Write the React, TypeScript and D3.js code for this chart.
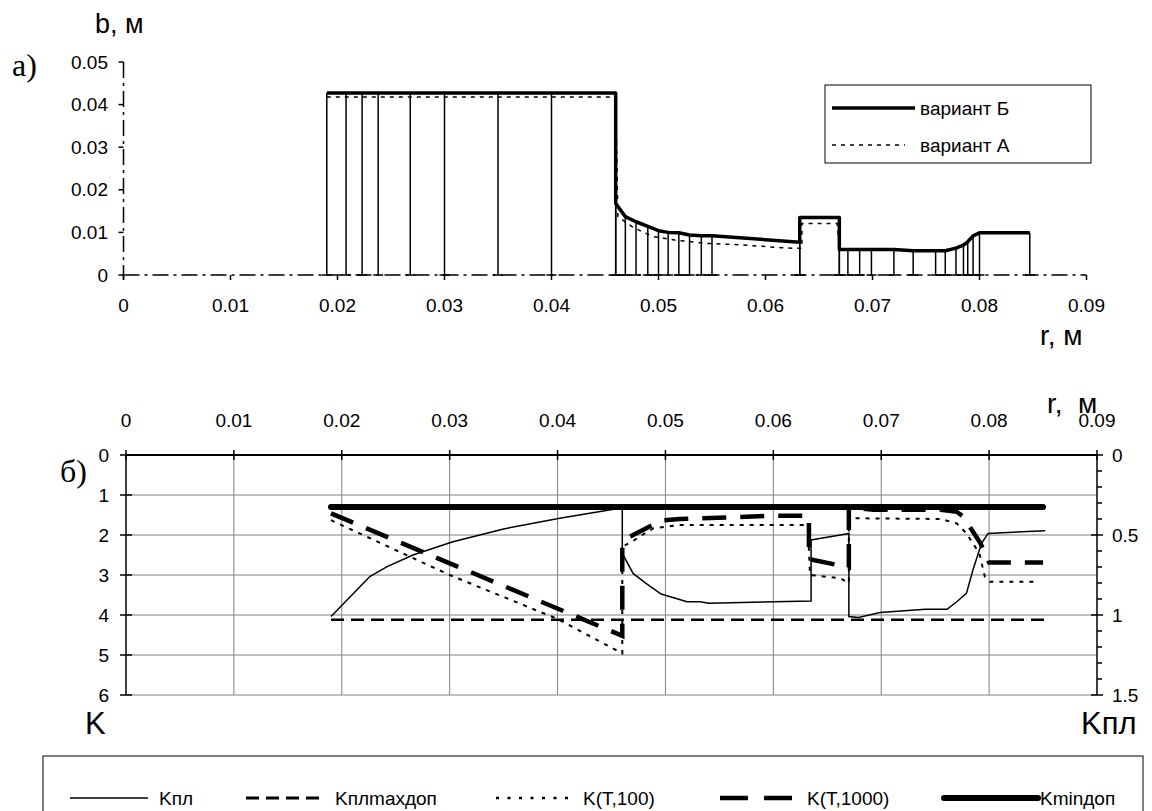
import React from 'react';
import * as d3 from 'd3';

const W = 1152;
const H = 811;
const FONT = "'Liberation Sans', Arial, sans-serif";
const SERIF = "'Liberation Serif', 'Times New Roman', serif";

// ---------- top chart (a) ----------
const rTicks = [0, 0.01, 0.02, 0.03, 0.04, 0.05, 0.06, 0.07, 0.08, 0.09];
const bTicks = [0, 0.01, 0.02, 0.03, 0.04, 0.05];

const variantBr = [0.019, 0.0208, 0.0223, 0.0238, 0.0268, 0.030, 0.035, 0.040, 0.046, 0.046, 0.0469, 0.0479, 0.049, 0.050, 0.0509, 0.0519, 0.0529, 0.054, 0.055, 0.0632, 0.0632, 0.0669, 0.0669, 0.0677, 0.0688, 0.0699, 0.0720, 0.0738, 0.0759, 0.0768, 0.0778, 0.0785, 0.0789, 0.0794, 0.0800, 0.0847];
const variantBb = [0.0427, 0.0427, 0.0427, 0.0427, 0.0427, 0.0427, 0.0427, 0.0427, 0.0427, 0.0168, 0.0137, 0.0125, 0.0114, 0.0104, 0.0100, 0.0099, 0.0094, 0.0092, 0.0092, 0.0077, 0.0135, 0.0135, 0.0060, 0.0060, 0.0060, 0.0060, 0.0060, 0.0057, 0.0057, 0.0057, 0.0063, 0.0070, 0.0078, 0.0092, 0.0099, 0.0099];

const variantAr = [0.019, 0.046, 0.0462, 0.0475, 0.0486, 0.0496, 0.0515, 0.0546, 0.0576, 0.0615, 0.0625, 0.0634, 0.0634, 0.0667, 0.0669, 0.0720, 0.0738, 0.0768, 0.0778, 0.0789, 0.0794, 0.0800, 0.0847];
const variantAb = [0.0418, 0.0418, 0.0137, 0.0114, 0.0100, 0.0090, 0.0082, 0.0074, 0.0071, 0.0064, 0.0063, 0.0063, 0.0121, 0.0121, 0.0060, 0.0060, 0.0057, 0.0057, 0.0063, 0.0078, 0.0092, 0.0099, 0.0099];

// ---------- bottom chart (б) ----------
const kTicksLeft = [0, 1, 2, 3, 4, 5, 6];
const kplTicksMajor = [0, 0.5, 1, 1.5];
const kplTicksMinor = [0.1, 0.2, 0.3, 0.4, 0.6, 0.7, 0.8, 0.9, 1.1, 1.2, 1.3, 1.4];

const kplR = [0.019, 0.0211, 0.0226, 0.0242, 0.0266, 0.0303, 0.035, 0.0402, 0.0452, 0.046, 0.046, 0.047, 0.0482, 0.0496, 0.052, 0.0532, 0.054, 0.0635, 0.0635, 0.0662, 0.067, 0.067, 0.0679, 0.0699, 0.0741, 0.0761, 0.077, 0.0779, 0.0785, 0.0793, 0.0799, 0.0852];
const kplV = [1.01, 0.864, 0.76, 0.698, 0.625, 0.542, 0.462, 0.396, 0.339, 0.328, 0.614, 0.74, 0.802, 0.869, 0.917, 0.917, 0.927, 0.9125, 0.531, 0.50, 0.49, 1.01, 1.015, 0.985, 0.964, 0.964, 0.917, 0.865, 0.719, 0.552, 0.49, 0.473];

const kplMaxR = [0.019, 0.0852];
const kplMaxV = [1.03, 1.03];

const kt100R = [0.019, 0.030, 0.040, 0.046, 0.046, 0.0469, 0.0476, 0.0489, 0.0513, 0.0632, 0.0634, 0.0662, 0.067, 0.067, 0.0755, 0.077, 0.0779, 0.0791, 0.0796, 0.0801, 0.0846];
const kt100V = [1.63, 3.0, 4.1, 4.96, 2.29, 2.17, 2.04, 1.83, 1.75, 1.75, 3.0, 3.08, 3.2, 1.58, 1.6, 1.71, 1.96, 2.46, 3.04, 3.17, 3.17];

const kt1000R = [0.019, 0.046, 0.046, 0.0467, 0.048, 0.0496, 0.0513, 0.060, 0.0633, 0.0633, 0.067, 0.067, 0.0693, 0.0755, 0.077, 0.0776, 0.0792, 0.080, 0.085];
const kt1000V = [1.46, 4.52, 2.3, 2.04, 1.86, 1.64, 1.6, 1.52, 1.52, 2.6, 2.81, 1.3, 1.37, 1.37, 1.42, 1.54, 2.21, 2.69, 2.69];

const kminR = [0.019, 0.085];
const kminV = [1.3, 1.3];

const fmt = (v: number) => String(+v.toFixed(2));
const zip = (a: number[], b: number[]): [number, number][] => a.map((v, i) => [v, b[i]]);

export default function App() {
  const xTop = d3.scaleLinear().domain([0, 0.09]).range([123.5, 1086.5]);
  const yTop = d3.scaleLinear().domain([0, 0.05]).range([275, 62]);
  const xBot = d3.scaleLinear().domain([0, 0.09]).range([126, 1097]);
  const yLeft = d3.scaleLinear().domain([0, 6]).range([455, 695]);
  const yRight = d3.scaleLinear().domain([0, 1.5]).range([455, 695]);

  const lineTop = d3.line<[number, number]>().x(d => xTop(d[0])).y(d => yTop(d[1]));
  const lineL = d3.line<[number, number]>().x(d => xBot(d[0])).y(d => yLeft(d[1]));
  const lineR = d3.line<[number, number]>().x(d => xBot(d[0])).y(d => yRight(d[1]));

  const ptsB = zip(variantBr, variantBb);
  const ptsA = zip(variantAr, variantAb);

  const axisDash = '16,5,3,5';

  return (
    <svg width={W} height={H} style={{ position: 'absolute', left: 0, top: 0, background: '#fff' }}
      fontFamily={FONT}>
      <rect x={0} y={0} width={W} height={H} fill="#fff" />

      {/* ===== TOP CHART ===== */}
      {ptsB.map((p, i) => (
        <g key={'h' + i}>
          <line x1={xTop(p[0])} x2={xTop(p[0])} y1={yTop(p[1])} y2={yTop(0)} stroke="#000" strokeWidth={1.5} />
          <line x1={xTop(p[0]) - 5} x2={xTop(p[0]) + 5} y1={yTop(0)} y2={yTop(0)} stroke="#000" strokeWidth={1.5} />
        </g>
      ))}
      <line x1={xTop(0)} x2={xTop(0.09)} y1={yTop(0)} y2={yTop(0)} stroke="#000" strokeWidth={1.5} strokeDasharray={axisDash} />
      <line x1={xTop(0)} x2={xTop(0)} y1={yTop(0.05)} y2={yTop(0) + 5} stroke="#000" strokeWidth={1.5} strokeDasharray={axisDash} />
      {bTicks.map(t => (
        <g key={'bt' + t}>
          <line x1={xTop(0) - 5} x2={xTop(0)} y1={yTop(t)} y2={yTop(t)} stroke="#000" strokeWidth={1.5} />
          <text x={108} y={yTop(t)} fontSize={19} textAnchor="end" dominantBaseline="central">{fmt(t)}</text>
        </g>
      ))}
      {rTicks.map(t => (
        <g key={'rt' + t}>
          <line x1={xTop(t)} x2={xTop(t)} y1={yTop(0)} y2={yTop(0) + 5} stroke="#000" strokeWidth={1.5} />
          <text x={xTop(t)} y={305} fontSize={19} textAnchor="middle" dominantBaseline="central">{fmt(t)}</text>
        </g>
      ))}
      <path d={lineTop(ptsA) || ''} fill="none" stroke="#000" strokeWidth={1.5} strokeDasharray="4,5" />
      <path d={lineTop(ptsB) || ''} fill="none" stroke="#000" strokeWidth={3.5} strokeLinejoin="round" />

      {/* legend top */}
      <rect x={825} y={85} width={266} height={78} fill="#fff" stroke="#000" strokeWidth={1} />
      <line x1={832} x2={915} y1={108} y2={108} stroke="#000" strokeWidth={3.5} />
      <text x={920} y={108} fontSize={19} dominantBaseline="central">вариант Б</text>
      <line x1={832} x2={905} y1={145} y2={145} stroke="#000" strokeWidth={1.5} strokeDasharray="4,5" />
      <text x={920} y={145} fontSize={19} dominantBaseline="central">вариант А</text>

      <text x={95} y={33} fontSize={27}>b, м</text>
      <text x={1040} y={345} fontSize={28}>r, м</text>
      <text x={12} y={76} fontSize={32} fontFamily={SERIF}>а)</text>

      {/* ===== BOTTOM CHART ===== */}
      {rTicks.slice(1, 9).map(t => (
        <line key={'gv' + t} x1={xBot(t)} x2={xBot(t)} y1={yLeft(0)} y2={yLeft(6)} stroke="#808080" strokeWidth={1} />
      ))}
      {kTicksLeft.slice(1).map(t => (
        <line key={'gh' + t} x1={xBot(0)} x2={xBot(0.09)} y1={yLeft(t)} y2={yLeft(t)} stroke="#808080" strokeWidth={1} />
      ))}
      <line x1={xBot(0)} x2={xBot(0.09)} y1={yLeft(0)} y2={yLeft(0)} stroke="#000" strokeWidth={2} />
      {rTicks.map(t => (
        <g key={'bx' + t}>
          <line x1={xBot(t)} x2={xBot(t)} y1={yLeft(0) - 5} y2={yLeft(0) + 5} stroke="#000" strokeWidth={1.5} />
          <text x={xBot(t)} y={420} fontSize={19} textAnchor="middle" dominantBaseline="central">{fmt(t)}</text>
        </g>
      ))}
      <line x1={xBot(0)} x2={xBot(0)} y1={yLeft(0)} y2={yLeft(6)} stroke="#000" strokeWidth={1.5} />
      {kTicksLeft.map(t => (
        <g key={'kl' + t}>
          <line x1={xBot(0) - 6} x2={xBot(0) + 6} y1={yLeft(t)} y2={yLeft(t)} stroke="#000" strokeWidth={1.5} />
          <text x={109} y={yLeft(t)} fontSize={19} textAnchor="end" dominantBaseline="central">{fmt(t)}</text>
        </g>
      ))}
      <line x1={xBot(0.09)} x2={xBot(0.09)} y1={yRight(0)} y2={yRight(1.5)} stroke="#000" strokeWidth={1.5} />
      {kplTicksMinor.map(t => (
        <line key={'km' + t} x1={xBot(0.09)} x2={xBot(0.09) + 5} y1={yRight(t)} y2={yRight(t)} stroke="#000" strokeWidth={1.5} />
      ))}
      {kplTicksMajor.map(t => (
        <g key={'kr' + t}>
          <line x1={xBot(0.09) - 6} x2={xBot(0.09) + 6} y1={yRight(t)} y2={yRight(t)} stroke="#000" strokeWidth={1.5} />
          <text x={1112} y={yRight(t)} fontSize={19} dominantBaseline="central">{fmt(t)}</text>
        </g>
      ))}

      <path d={lineR(zip(kplMaxR, kplMaxV)) || ''} fill="none" stroke="#000" strokeWidth={2.5} strokeDasharray="13,7" />
      <path d={lineL(zip(kminR, kminV)) || ''} fill="none" stroke="#000" strokeWidth={6} strokeLinecap="round" />
      <path d={lineR(zip(kplR, kplV)) || ''} fill="none" stroke="#000" strokeWidth={1.5} />
      <path d={lineL(zip(kt100R, kt100V)) || ''} fill="none" stroke="#000" strokeWidth={2} strokeDasharray="4,6" />
      <path d={lineL(zip(kt1000R, kt1000V)) || ''} fill="none" stroke="#000" strokeWidth={4.5} strokeDasharray="24,14" />

      <text x={1047} y={413} fontSize={28} style={{ whiteSpace: 'pre' }}>{'r,  м'}</text>
      <text x={85} y={734} fontSize={31}>K</text>
      <text x={1081} y={734} fontSize={31}>Kпл</text>
      <text x={60} y={482} fontSize={32} fontFamily={SERIF}>б)</text>

      {/* legend bottom */}
      <rect x={43} y={756} width={1100} height={90} fill="#fff" stroke="#000" strokeWidth={1} />
      <line x1={70} x2={148} y1={798} y2={798} stroke="#000" strokeWidth={1.5} />
      <text x={159} y={798} fontSize={19} dominantBaseline="central">Kпл</text>
      <line x1={246} x2={326} y1={798} y2={798} stroke="#000" strokeWidth={3} strokeDasharray="13,7" />
      <text x={335} y={798} fontSize={19} dominantBaseline="central">Kплmaxдоп</text>
      <line x1={496} x2={576} y1={798} y2={798} stroke="#000" strokeWidth={2.5} strokeDasharray="3,8.5" />
      <text x={583} y={798} fontSize={19} dominantBaseline="central">K(T,100)</text>
      <line x1={720} x2={792} y1={798} y2={798} stroke="#000" strokeWidth={4.5} strokeDasharray="28,16" />
      <text x={807} y={798} fontSize={19} dominantBaseline="central">K(T,1000)</text>
      <line x1={944} x2={1038} y1={798} y2={798} stroke="#000" strokeWidth={6} strokeLinecap="round" />
      <text x={1040} y={798} fontSize={19} dominantBaseline="central">Kminдоп</text>
    </svg>
  );
}
